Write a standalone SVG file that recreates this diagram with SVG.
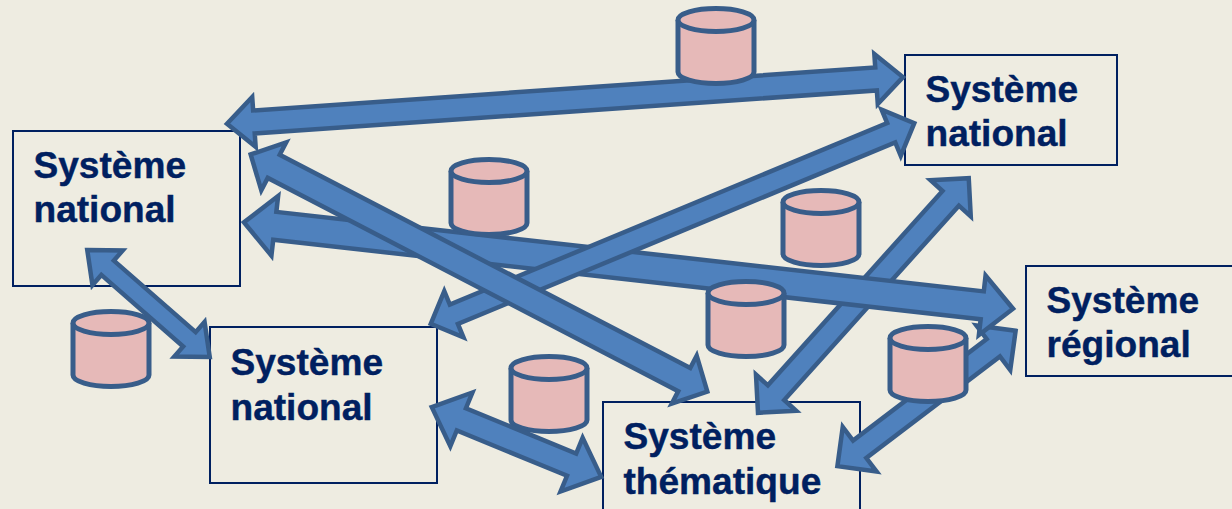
<svg xmlns="http://www.w3.org/2000/svg" xmlns:xlink="http://www.w3.org/1999/xlink" width="1232" height="509" viewBox="0 0 1232 509">
<style>
.box{fill:none;stroke:#002060;stroke-width:2}
.lbl{font-family:"Liberation Sans",Arial,sans-serif;font-weight:700;font-size:37.1px;fill:#002060;stroke:#002060;stroke-width:.4}
.arr{fill:#4F81BD;stroke:#385D8A;stroke-width:4.5;stroke-linejoin:miter;stroke-miterlimit:10}
.cyl{fill:#E6B9B8;stroke:#385D8A;stroke-width:5}
</style>
<defs>
<g id="cyl">
<path class="cyl" d="M-38 14V66A38 11.5 0 0 0 38 66V14A38 11.5 0 0 0 -38 14Z"/>
<path class="cyl" d="M-38 14A38 11.5 0 0 0 38 14"/>
</g>
</defs>
<rect width="1232" height="509" fill="#EEECE1"/>
<g id="node-national-left"><rect class="box" x="13" y="131" width="227" height="155"/><text class="lbl" x="33.5" y="178">Système</text><text class="lbl" x="33.5" y="222">national</text></g>
<g id="node-national-middle"><rect class="box" x="210" y="327" width="227" height="156"/><text class="lbl" x="230.5" y="374.5">Système</text><text class="lbl" x="230.5" y="419.5">national</text></g>
<g id="node-thematique"><rect class="box" x="603" y="402" width="257" height="130"/><text class="lbl" x="623.5" y="449">Système</text><text class="lbl" x="623.5" y="493.5">thématique</text></g>
<g id="node-national-right"><rect class="box" x="905" y="55" width="212" height="110"/><text class="lbl" x="925.5" y="102">Système</text><text class="lbl" x="925.5" y="146">national</text></g>
<g id="node-regional"><rect class="box" x="1026" y="266" width="230" height="110"/><text class="lbl" x="1046.5" y="313">Système</text><text class="lbl" x="1046.5" y="357">régional</text></g>
<g id="db-5"><use href="#cyl" x="111" y="309"/></g>
<g id="db-6"><use href="#cyl" x="549" y="354"/></g>
<g id="connectors">
<polygon class="arr" transform="translate(756,415) rotate(-48.06)" points="3,0 30,-27 30,-11 291.3,-11 291.3,-27 318.3,0 291.3,27 291.3,11 30,11 30,27"/>
<polygon class="arr" transform="translate(835,468) rotate(-37.22)" points="3,0 31,-28 31,-11 198.8,-11 198.8,-28 226.8,0 198.8,28 198.8,11 31,11 31,28"/>
<polygon class="arr" transform="translate(241,222) rotate(6.41)" points="3,0 34,-30 34,-14 745.9,-14 745.9,-30 776.9,0 745.9,30 745.9,14 34,14 34,30"/>
<polygon class="arr" transform="translate(428,325) rotate(-22.54)" points="3,0 28,-25 28,-10.5 501.5,-10.5 501.5,-25 526.5,0 501.5,25 501.5,10.5 28,10.5 28,25"/>
<polygon class="arr" transform="translate(248,153) rotate(27.45)" points="3,0 29,-27 29,-13 491.6,-13 491.6,-27 517.6,0 491.6,27 491.6,13 29,13 29,27"/>
<polygon class="arr" transform="translate(224,124) rotate(-3.95)" points="3,0 30,-25 30,-11.5 653.6,-11.5 653.6,-25 680.6,0 653.6,25 653.6,11.5 30,11.5 30,25"/>
<polygon class="arr" transform="translate(85,248) rotate(41.16)" points="3,0 30,-23 30,-9.5 138.7,-9.5 138.7,-23 165.7,0 138.7,23 138.7,9.5 30,9.5 30,23"/>
<polygon class="arr" transform="translate(429,406) rotate(22.37)" points="3,0 35,-29 35,-12 154.2,-12 154.2,-29 186.2,0 154.2,29 154.2,12 35,12 35,29"/>
</g>
<g id="db-1"><use href="#cyl" x="716" y="6"/></g>
<g id="db-2"><use href="#cyl" x="489" y="157"/></g>
<g id="db-3"><use href="#cyl" x="821" y="188"/></g>
<g id="db-4"><use href="#cyl" x="746" y="279"/></g>
<g id="db-7"><use href="#cyl" x="928" y="324"/></g>
</svg>
